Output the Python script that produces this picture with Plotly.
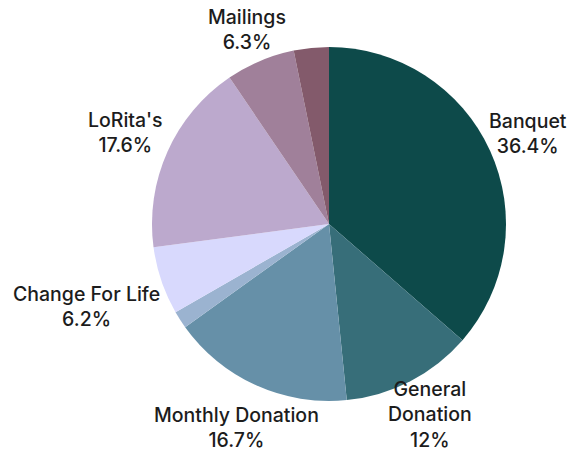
import math
import plotly.graph_objects as go

labels = ["Banquet", "General Donation", "Monthly Donation", "Other", "Change For Life",
          "LoRita's", "Mailings", "Events"]
values = [36.4, 12.0, 16.7, 1.6, 6.2, 17.6, 6.3, 3.2]
display_text = ["Banquet<br>36.4%", "General<br>Donation<br>12%", "Monthly Donation<br>16.7%", "",
                "Change For Life<br>6.2%", "LoRita's<br>17.6%", "Mailings<br>6.3%", ""]
colors = ["#0d4a4a", "#376e79", "#6690a8", "#9bb3d0", "#d8d9fd", "#bca9cd", "#a0809a", "#835a6b"]

W, H = 573, 454
cx, cy, r = 329, 224, 177
FONT_SIZE = 19.5
FONT = dict(family="Inter", size=FONT_SIZE, color="#1c1c1c", weight=500)

fig = go.Figure(go.Pie(
    labels=labels,
    values=values,
    textinfo="none",
    sort=False,
    direction="clockwise",
    rotation=0,
    marker=dict(colors=colors, line=dict(width=0)),
    showlegend=False,
    hoverinfo="label+percent",
    domain=dict(x=[(cx - r) / W, (cx + r) / W], y=[1 - (cy + r) / H, 1 - (cy - r) / H]),
))

# outside labels: centred on the ray through each slice's middle angle
total = sum(values)
cum = 0.0
char_w, line_h, pad = 10.0, 23.0, 8.0
for val, txt in zip(values, display_text):
    mid = (cum + val / 2) / total * 2 * math.pi
    cum += val
    if not txt:
        continue
    lines = txt.split("<br>")
    w = char_w * max(len(s) for s in lines)
    h = line_h * len(lines)
    ux, uy = math.sin(mid), math.cos(mid)
    d = r + math.hypot(w / 2 * ux, h / 2 * uy) + pad
    px = cx + d * ux
    py = cy - d * uy
    # keep the whole text block inside the canvas
    real_h = len(lines) * 1.3 * FONT_SIZE
    py = min(py, H - real_h / 2 - 1)
    fig.add_annotation(
        x=px / W, y=1 - py / H, xref="paper", yref="paper",
        text=txt, showarrow=False, xanchor="center", yanchor="middle",
        align="center", font=FONT,
    )

fig.update_layout(
    width=W, height=H,
    margin=dict(l=0, r=0, t=0, b=0),
    paper_bgcolor="white",
    plot_bgcolor="white",
)
fig.write_html("out.html")
